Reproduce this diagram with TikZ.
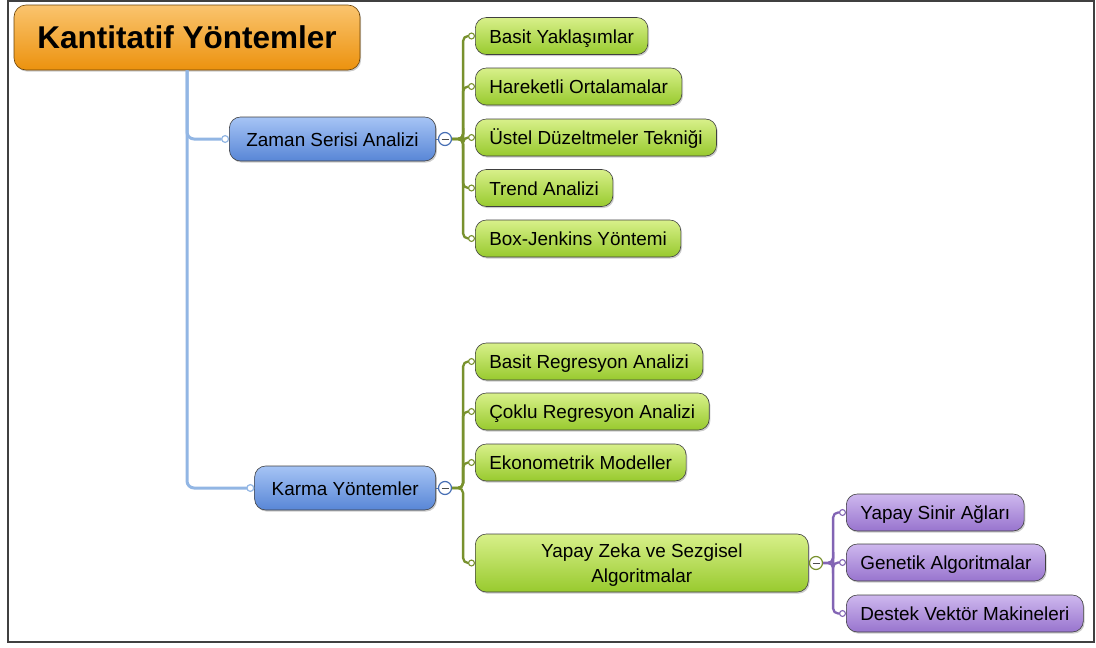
\documentclass[tikz,border=0pt]{standalone}
\usepackage{fontspec}
\setmainfont{Liberation Sans}
\usetikzlibrary{shadows,arrows.meta,calc}
\definecolor{orTop}{RGB}{250,196,110}
\definecolor{orBot}{RGB}{236,146,14}
\definecolor{blTop}{RGB}{166,196,245}
\definecolor{blBot}{RGB}{88,134,214}
\definecolor{grTop}{RGB}{216,240,138}
\definecolor{grBot}{RGB}{152,202,46}
\definecolor{puTop}{RGB}{206,184,238}
\definecolor{puBot}{RGB}{152,116,206}
\definecolor{rootLine}{RGB}{146,182,228}
\definecolor{grLine}{RGB}{120,145,45}
\definecolor{puLine}{RGB}{130,100,180}
\definecolor{blLine}{RGB}{70,110,180}
\begin{document}
\begin{tikzpicture}[x=1pt,y=-1pt,
  basebox/.style={rounded corners=11pt, draw=black!75, line width=0.6pt,
    drop shadow={shadow xshift=1.2pt, shadow yshift=-1.6pt, opacity=0.4},
    font=\fontsize{18.9}{25}\selectfont, text=black, inner ysep=0pt},
  obox/.style={basebox, rounded corners=12pt, top color=orTop, bottom color=orBot,
    draw=black!55!orBot, font=\bfseries\fontsize{31.5}{36}\selectfont},
  bbox/.style={basebox, top color=blTop, bottom color=blBot, minimum height=44pt,
    inner xsep=17pt, text height=14pt, text depth=0pt, anchor=east},
  gbox/.style={basebox, top color=grTop, bottom color=grBot, minimum height=37pt,
    inner xsep=14pt, anchor=west},
  one/.style={text height=14pt, text depth=0pt},
  pbox/.style={gbox, top color=puTop, bottom color=puBot},
  collapse/.style={circle, minimum size=13pt, inner sep=0pt, line width=1.2pt, fill=white,
    path picture={\draw[black!70, line width=1pt]
      ([xshift=3pt]path picture bounding box.west) -- ([xshift=-3pt]path picture bounding box.east);}},
  rootline/.style={draw=rootLine, line width=3pt, rounded corners=7pt,
    -{Circle[fill=white, line width=1.2pt, length=8pt, width=8pt]}},
  gline/.style={draw=grLine, line width=2.3pt, rounded corners=5pt,
    -{Circle[fill=white, line width=1.1pt, length=7pt, width=7pt]}},
  pline/.style={gline, draw=puLine}
]
\useasboundingbox (0,0) rectangle (1096,648);
\draw[line width=1.6pt, black!75] (8,1) rectangle (1094,642);

% nodes
\node[obox, minimum width=346pt, minimum height=65pt] (root) at (187,37.5) {Kantitatif Yöntemler};
\node[bbox] (zs) at (436,139) {Zaman Serisi Analizi};
\node[bbox] (km) at (436,488) {Karma Yöntemler};
\node[collapse, draw=blLine] (zc) at (445,139) {};
\node[collapse, draw=blLine] (kc) at (445,488) {};

\node[gbox, one] (g1) at (475,36) {Basit Yaklaşımlar};
\node[gbox, one] (g2) at (475,86.5) {Hareketli Ortalamalar};
\node[gbox, one] (g3) at (475,137.5) {Üstel Düzeltmeler Tekniği};
\node[gbox, one] (g4) at (475,188) {Trend Analizi};
\node[gbox, one] (g5) at (475,238.5) {Box-Jenkins Yöntemi};

\node[gbox, one] (h1) at (475,361.5) {Basit Regresyon Analizi};
\node[gbox, one] (h2) at (475,411.5) {Çoklu Regresyon Analizi};
\node[gbox, one] (h3) at (475,462.5) {Ekonometrik Modeller};
\node[gbox, minimum width=333pt, minimum height=58pt, align=center, text depth=-3pt] (h4) at (475,563) {Yapay Zeka ve Sezgisel\\Algoritmalar};
\node[collapse, draw=grLine] (yc) at (816,563) {};

\node[pbox, one] (p1) at (846,512.5) {Yapay Sinir Ağları};
\node[pbox, one] (p2) at (846,562.5) {Genetik Algoritmalar};
\node[pbox, one] (p3) at (846,613.5) {Destek Vektör Makineleri};

% connectors
\draw[rootline] (root.south) |- (zs.west);
\draw[rootline] (root.south) |- (km.west);

\draw[draw=blLine, line width=1pt] (zs.east) -- (zc.west);
\draw[draw=blLine, line width=1pt] (km.east) -- (kc.west);
\draw[draw=grLine, line width=1pt] (h4.east) -- (yc.west);

\foreach \c in {g1,g2,g3,g4,g5}
  \draw[gline] (zc.east) -- ++(11,0) |- (\c.west);
\foreach \c in {h1,h2,h3,h4}
  \draw[gline] (kc.east) -- ++(11,0) |- (\c.west);
\foreach \c in {p1,p2,p3}
  \draw[pline] (yc.east) -- ++(10,0) |- (\c.west);
\end{tikzpicture}
\end{document}
